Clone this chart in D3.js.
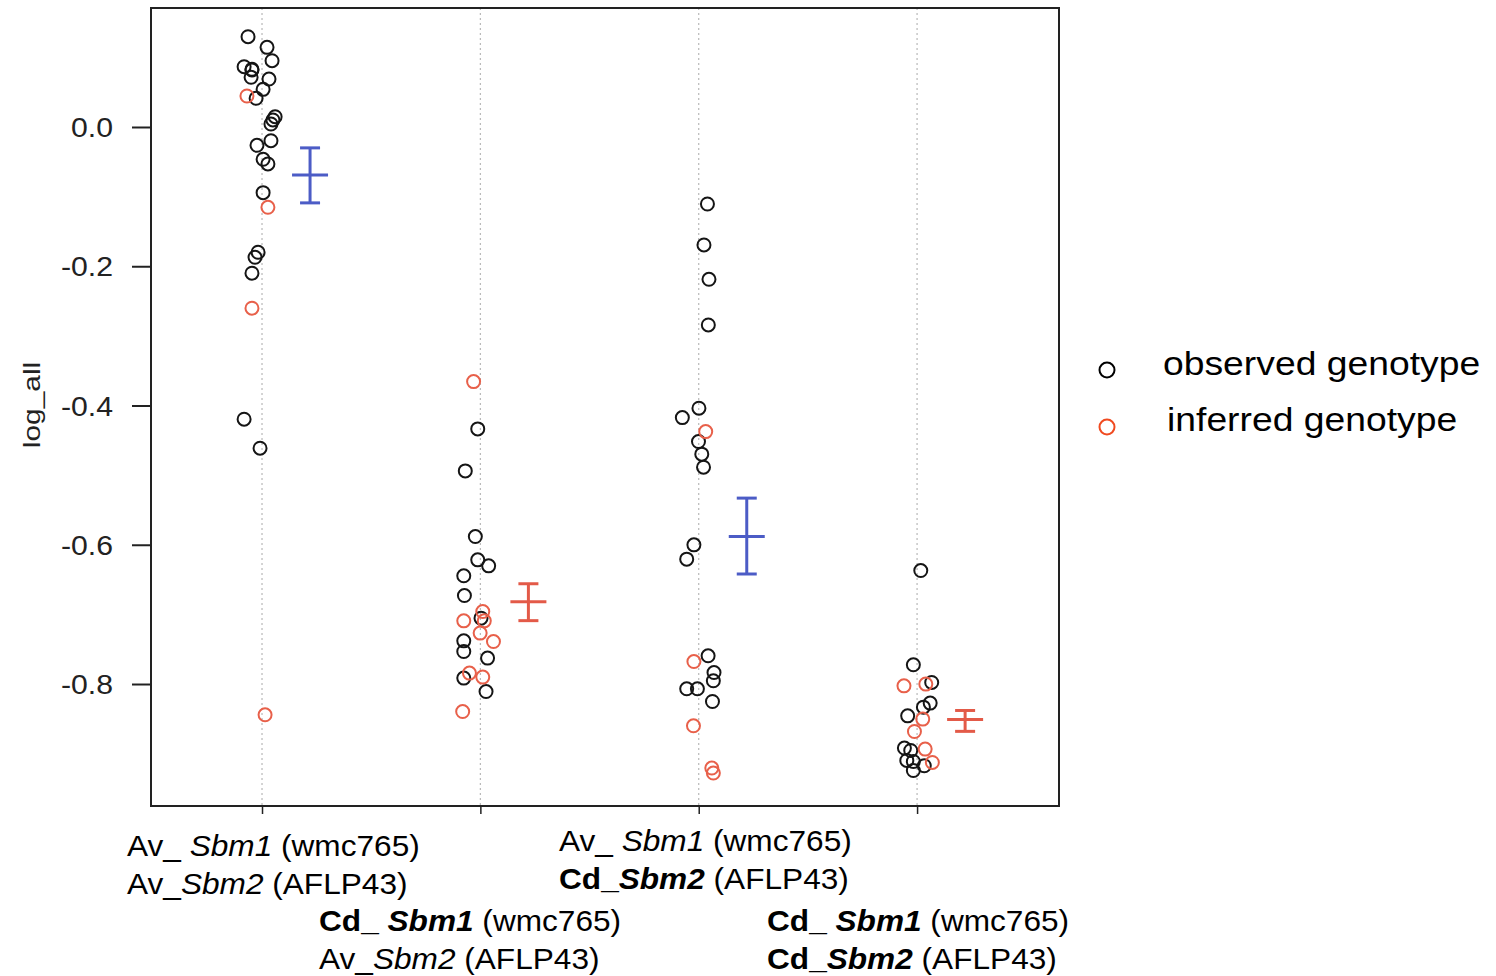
<!DOCTYPE html>
<html><head><meta charset="utf-8">
<script src="https://cdn.jsdelivr.net/npm/d3@7"></script>
<style>body{margin:0;background:#fff}svg{display:block}text{font-family:"Liberation Sans",Arial,sans-serif}</style>
</head><body><div id="chart"></div>
<script>
// ---- data ----
const categories = [1, 2, 3, 4];
const yTicks = [0.0, -0.2, -0.4, -0.6, -0.8];
const yTickLabels = ["0.0", "-0.2", "-0.4", "-0.6", "-0.8"];
const yLabel = "log_all";
// [value, x-jitter]
const g1Observed = [[0.1297,-0.064],[0.1144,0.023],[0.0952,0.046],[0.0866,-0.082],[0.0828,-0.046],[0.0818,-0.046],[0.0714,-0.050],[0.0689,0.032],[0.0541,0.005],[0.0412,-0.027],[0.0148,0.060],[0.0101,0.050],[0.0043,0.041],[-0.0197,0.041],[-0.0263,-0.023],[-0.0464,0.005],[-0.0531,0.027],[-0.0943,0.005],[-0.1799,-0.018],[-0.1871,-0.032],[-0.2100,-0.046],[-0.4197,-0.082],[-0.4613,-0.009]];
const g1Inferred = [[0.0445,-0.069],[-0.1153,0.027],[-0.2603,-0.046],[-0.8442,0.014]];
const g2Observed = [[-0.4336,-0.012],[-0.4939,-0.069],[-0.5882,-0.023],[-0.6217,-0.012],[-0.6303,0.038],[-0.6446,-0.076],[-0.6729,-0.073],[-0.7054,0.003],[-0.7380,-0.076],[-0.7533,-0.076],[-0.7628,0.033],[-0.7915,-0.076],[-0.8108,0.026]];
const g2Inferred = [[-0.3657,-0.031],[-0.6959,0.011],[-0.7093,-0.076],[-0.7093,0.018],[-0.7269,-0.001],[-0.7390,0.060],[-0.7843,-0.050],[-0.7901,0.011],[-0.8395,-0.081]];
const g3Observed = [[-0.1106,0.040],[-0.1694,0.024],[-0.2187,0.047],[-0.2843,0.044],[-0.4039,0.001],[-0.4174,-0.075],[-0.4518,-0.001],[-0.4699,0.014],[-0.4886,0.022],[-0.6001,-0.022],[-0.6207,-0.055],[-0.7595,0.043],[-0.7835,0.070],[-0.7954,0.067],[-0.8069,-0.055],[-0.8069,-0.006],[-0.8251,0.063]];
const g3Inferred = [[-0.4375,0.032],[-0.7677,-0.022],[-0.8600,-0.024],[-0.9207,0.060],[-0.9279,0.067]];
const g4Observed = [[-0.6370,0.017],[-0.7724,-0.017],[-0.7978,0.067],[-0.8274,0.060],[-0.8332,0.029],[-0.8457,-0.043],[-0.8920,-0.058],[-0.8955,-0.029],[-0.9098,-0.047],[-0.9113,-0.017],[-0.9174,0.033],[-0.9242,-0.017]];
const g4Inferred = [[-0.8026,-0.060],[-0.8001,0.040],[-0.8504,0.026],[-0.8682,-0.012],[-0.8935,0.037],[-0.9127,0.070]];
const meanValues = [-0.069, -0.682, -0.588, -0.851];
const upperValues = [-0.030, -0.656, -0.533, -0.838];
const lowerValues = [-0.109, -0.709, -0.642, -0.868];
const meanOffset = 0.22;
const legendLabels = ["observed genotype", "inferred genotype"];
// label lines: segments [text, bold, italic]
const xLabels = [
  [[["Av_ ",0,0],["Sbm1",0,1],[" (wmc765)",0,0]], [["Av_",0,0],["Sbm2",0,1],[" (AFLP43)",0,0]]],
  [[["Cd_ ",1,0],["Sbm1",1,1],[" (wmc765)",0,0]], [["Av_",0,0],["Sbm2",0,1],[" (AFLP43)",0,0]]],
  [[["Av_ ",0,0],["Sbm1",0,1],[" (wmc765)",0,0]], [["Cd_",1,0],["Sbm2",1,1],[" (AFLP43)",0,0]]],
  [[["Cd_ ",1,0],["Sbm1",1,1],[" (wmc765)",0,0]], [["Cd_",1,0],["Sbm2",1,1],[" (AFLP43)",0,0]]]
];

// ---- layout / style ----
const W = 1496, H = 976;
const box = {l:151, t:8, r:1059, b:806};
const obsColor = "#151515", infColor = "#e8604a";
const barColors = ["#4c5cc6", "#e35a48", "#4c5cc6", "#e35a48"];
const labelPos = [{x:127,y:856},{x:319,y:931},{x:559,y:851},{x:767,y:931}];

const svg = d3.select("#chart").append("svg").attr("width",W).attr("height",H);
const x = d3.scaleLinear().domain([0.4916, 4.65]).range([box.l, box.r]);
const y = d3.scaleLinear().domain([-0.9752, 0.1709]).range([box.b, box.t]);

// grid
svg.append("g").selectAll("line").data(categories).join("line")
  .attr("x1",d=>x(d)).attr("x2",d=>x(d)).attr("y1",box.t).attr("y2",box.b)
  .attr("stroke","#b8b8b8").attr("stroke-width",1.2).attr("stroke-dasharray","2,3");

// points
const groups = [[g1Observed,g1Inferred],[g2Observed,g2Inferred],[g3Observed,g3Inferred],[g4Observed,g4Inferred]];
const pts = [];
groups.forEach((g,i)=>{
  g[0].forEach(p=>pts.push({cat:categories[i], v:p[0], j:p[1], inf:false}));
  g[1].forEach(p=>pts.push({cat:categories[i], v:p[0], j:p[1], inf:true}));
});
svg.append("g").selectAll("circle").data(pts).join("circle")
  .attr("cx",d=>x(d.cat+d.j)).attr("cy",d=>y(d.v)).attr("r",6.5)
  .attr("fill","none").attr("stroke",d=>d.inf?infColor:obsColor).attr("stroke-width",2);

// error bars
const eb = svg.append("g");
categories.forEach((c,i)=>{
  const cx = x(c+meanOffset), col = barColors[i];
  const g = eb.append("g").attr("stroke",col).attr("stroke-width",3);
  g.append("line").attr("x1",cx).attr("x2",cx).attr("y1",y(upperValues[i])).attr("y2",y(lowerValues[i]));
  g.append("line").attr("x1",cx-10).attr("x2",cx+10).attr("y1",y(upperValues[i])).attr("y2",y(upperValues[i]));
  g.append("line").attr("x1",cx-10).attr("x2",cx+10).attr("y1",y(lowerValues[i])).attr("y2",y(lowerValues[i]));
  g.append("line").attr("x1",cx-18).attr("x2",cx+18).attr("y1",y(meanValues[i])).attr("y2",y(meanValues[i]));
});

// box
svg.append("rect").attr("x",box.l).attr("y",box.t).attr("width",box.r-box.l).attr("height",box.b-box.t)
  .attr("fill","none").attr("stroke","#222").attr("stroke-width",2);

// y axis
const sTick = 1.12;
const ya = svg.append("g").attr("transform",`translate(${box.l},0)`)
  .call(d3.axisLeft(y).tickValues(yTicks).tickFormat((d,i)=>yTickLabels[i]).tickSize(19).tickPadding(19));
ya.select(".domain").remove();
ya.selectAll("line").attr("stroke","#222").attr("stroke-width",2);
ya.selectAll("text").attr("font-size",27).attr("fill","#222")
  .attr("font-family",'"Liberation Sans",Arial,sans-serif')
  .attr("x",-38/sTick).attr("dy","0.36em").attr("transform",`scale(${sTick},1)`);

svg.append("text").attr("transform","translate(40,405) rotate(-90) scale(1.3,1)").attr("text-anchor","middle")
  .attr("font-size",23).attr("fill","#222").text(yLabel);

// x axis ticks
const xa = svg.append("g").attr("transform",`translate(0,${box.b})`)
  .call(d3.axisBottom(x).tickValues(categories).tickFormat("").tickSize(8));
xa.select(".domain").remove();
xa.selectAll("line").attr("stroke","#222").attr("stroke-width",1.5);

// x labels
xLabels.forEach((lines,i)=>{
  lines.forEach((segs,k)=>{
    const t = svg.append("text")
      .attr("transform",`translate(${labelPos[i].x},${labelPos[i].y+k*37.5}) scale(1.09,1)`)
      .attr("font-size",29).attr("fill","#000");
    segs.forEach(s=>t.append("tspan").text(s[0])
      .attr("font-weight",s[1]?"bold":"normal").attr("font-style",s[2]?"italic":"normal"));
  });
});

// legend
const lg = svg.append("g");
legendLabels.forEach((l,i)=>{
  const cy = 370 + i*57;
  lg.append("circle").attr("cx",1107).attr("cy",cy).attr("r",7.5).attr("fill","none")
    .attr("stroke",i?"#f04a20":"#000").attr("stroke-width",2);
  lg.append("text").attr("transform",`translate(${1163+i*4},${375+i*56}) scale(1.13,1)`)
    .attr("font-size",33).attr("fill","#000").text(l);
});
</script></body></html>
